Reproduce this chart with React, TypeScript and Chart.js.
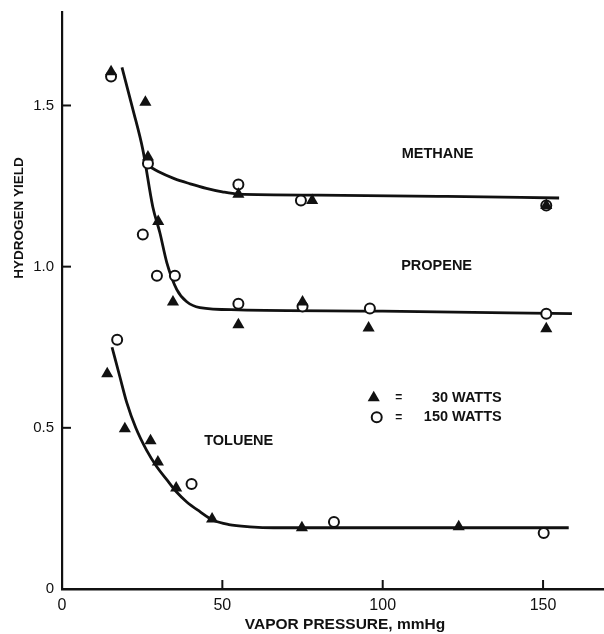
import React, { useEffect, useRef } from "react";
import { Chart, registerables } from "chart.js";

Chart.register(...registerables);

// ---- axes ----
const xTicks = [0, 50, 100, 150];
const xTickLabels = ["0", "50", "100", "150"];
const yTicks = [0, 0.5, 1.0, 1.5];
const yTickLabels = ["0", "0.5", "1.0", "1.5"];
const xMin = 0;
const xMax = 169;
const yMin = 0;
const yMax = 1.79;
const xTitle = "VAPOR PRESSURE, mmHg";
const yTitle = "HYDROGEN YIELD";

// ---- measured points: 30 W (triangles) ----
const methane30X = [26.8, 55, 78, 151];
const methane30Y = [1.34, 1.225, 1.205, 1.19];
const propene30X = [15.3, 26, 30, 34.6, 55, 75, 95.6, 151];
const propene30Y = [1.605, 1.51, 1.14, 0.89, 0.82, 0.89, 0.81, 0.807];
const toluene30X = [14.1, 19.6, 27.6, 29.9, 35.6, 46.8, 74.8, 123.7];
const toluene30Y = [0.668, 0.497, 0.46, 0.394, 0.313, 0.217, 0.19, 0.193];

// ---- measured points: 150 W (circles) ----
const methane150X = [26.8, 55, 74.5, 151];
const methane150Y = [1.32, 1.255, 1.205, 1.19];
const propene150X = [15.3, 25.2, 29.6, 35.2, 55, 75, 96, 151];
const propene150Y = [1.59, 1.10, 0.972, 0.972, 0.885, 0.876, 0.87, 0.854];
const toluene150X = [17.2, 40.4, 84.8, 150.2];
const toluene150Y = [0.773, 0.326, 0.208, 0.174];

// ---- hand-drawn fit curves ----
const methaneFitX = [26.5, 30, 35, 40, 45, 50, 55, 80, 120, 155];
const methaneFitY = [1.315, 1.295, 1.273, 1.257, 1.243, 1.232, 1.225, 1.222, 1.218, 1.213];
const propeneFitX = [18.7, 22.1, 25.2, 28.3, 30.5, 32.7, 35.8, 38.9, 43, 55, 100, 159];
const propeneFitY = [1.618, 1.488, 1.363, 1.186, 1.106, 1.012, 0.929, 0.891, 0.873, 0.866, 0.862, 0.854];
const tolueneFitX = [15.6, 18, 20.2, 23, 26.4, 29.5, 32.6, 35.8, 38.9, 43, 47, 52, 58.6, 66, 75, 100, 158];
const tolueneFitY = [0.75, 0.66, 0.578, 0.5, 0.43, 0.38, 0.34, 0.3, 0.27, 0.24, 0.214, 0.2, 0.193, 0.19, 0.19, 0.19, 0.19];

// ---- text annotations ----
const gasLabels = ["METHANE", "PROPENE", "TOLUENE"];
const gasLabelX = [117.1, 116.8, 55.1];
const gasLabelY = [1.351, 1.003, 0.46];
const legendLabels = ["30 WATTS", "150 WATTS"];
const legendX = 97.2;
const legendY = [0.593, 0.533];

const pts = (xs: number[], ys: number[]) => xs.map((x, i) => ({ x, y: ys[i] }));

const INK = "#111111";
const FONT = "'Liberation Sans', Arial, sans-serif";

const annotate = {
  id: "annotate",
  afterDraw(chart: any) {
    const ctx = chart.ctx as CanvasRenderingContext2D;
    const xs = chart.scales.x;
    const ys = chart.scales.y;
    const area = chart.chartArea;
    ctx.save();
    ctx.strokeStyle = INK;
    ctx.fillStyle = INK;
    // inward tick marks
    ctx.lineWidth = 2;
    xTicks.forEach((v) => {
      if (v === 0) return;
      const px = xs.getPixelForValue(v);
      ctx.beginPath();
      ctx.moveTo(px, area.bottom);
      ctx.lineTo(px, area.bottom - 9);
      ctx.stroke();
    });
    yTicks.forEach((v) => {
      if (v === 0) return;
      const py = ys.getPixelForValue(v);
      ctx.beginPath();
      ctx.moveTo(area.left, py);
      ctx.lineTo(area.left + 9, py);
      ctx.stroke();
    });
    // axis titles
    ctx.font = `bold 15.5px ${FONT}`;
    ctx.textAlign = "center";
    ctx.textBaseline = "middle";
    ctx.fillText(xTitle, 345, 625);
    ctx.save();
    ctx.translate(19, 218);
    ctx.rotate(-Math.PI / 2);
    ctx.font = `bold 13.5px ${FONT}`;
    ctx.fillText(yTitle, 0, 0);
    ctx.restore();
    // gas labels
    ctx.font = `bold 14.5px ${FONT}`;
    gasLabels.forEach((t, i) => {
      ctx.fillText(t, xs.getPixelForValue(gasLabelX[i]), ys.getPixelForValue(gasLabelY[i]));
    });
    // legend
    const lx = xs.getPixelForValue(legendX);
    legendY.forEach((v, i) => {
      const py = ys.getPixelForValue(v);
      if (i === 0) {
        const r = 7;
        ctx.beginPath();
        ctx.moveTo(lx, py - r);
        ctx.lineTo(lx + r * 0.866, py + r * 0.5);
        ctx.lineTo(lx - r * 0.866, py + r * 0.5);
        ctx.closePath();
        ctx.fill();
      } else {
        ctx.beginPath();
        ctx.lineWidth = 2;
        ctx.arc(lx + 3, py, 5, 0, Math.PI * 2);
        ctx.stroke();
      }
      ctx.font = `bold 12px ${FONT}`;
      ctx.textAlign = "center";
      ctx.fillText("=", lx + 25, py);
      ctx.font = `bold 14.5px ${FONT}`;
      ctx.textAlign = "right";
      ctx.fillText(legendLabels[i], lx + 128, py);
    });
    ctx.restore();
  },
};

export default function App() {
  const ref = useRef<HTMLCanvasElement | null>(null);
  useEffect(() => {
    if (!ref.current) return;
    const tri = (xs: number[], ys: number[]) => ({
      type: "scatter" as const,
      data: pts(xs, ys),
      pointStyle: "triangle",
      pointRadius: 7,
      pointBackgroundColor: INK,
      pointBorderColor: INK,
      pointBorderWidth: 0,
      showLine: false,
      order: 0,
    });
    const circ = (xs: number[], ys: number[]) => ({
      type: "scatter" as const,
      data: pts(xs, ys),
      pointStyle: "circle",
      pointRadius: 5,
      pointBackgroundColor: "#ffffff",
      pointBorderColor: INK,
      pointBorderWidth: 2,
      showLine: false,
      order: 1,
    });
    const fit = (xs: number[], ys: number[]) => ({
      type: "scatter" as const,
      data: pts(xs, ys),
      showLine: true,
      borderColor: INK,
      borderWidth: 2.8,
      pointRadius: 0,
      cubicInterpolationMode: "monotone" as const,
      fill: false,
      order: 2,
    });
    const chart = new Chart(ref.current, {
      type: "scatter",
      data: {
        datasets: [
          fit(methaneFitX, methaneFitY),
          fit(propeneFitX, propeneFitY),
          fit(tolueneFitX, tolueneFitY),
          circ(methane150X, methane150Y),
          circ(propene150X, propene150Y),
          circ(toluene150X, toluene150Y),
          tri(methane30X, methane30Y),
          tri(propene30X, propene30Y),
          tri(toluene30X, toluene30Y),
        ] as any,
      },
      options: {
        responsive: false,
        animation: false,
        layout: { autoPadding: false, padding: { top: 12, right: 0, left: 0, bottom: 0 } },
        plugins: { legend: { display: false }, tooltip: { enabled: false }, title: { display: false } },
        scales: {
          x: {
            type: "linear",
            min: xMin,
            max: xMax,
            grid: { display: false, drawTicks: false, tickLength: 0 },
            border: { display: true, color: INK, width: 2.5 },
            afterBuildTicks: (s: any) => {
              s.ticks = xTicks.map((v) => ({ value: v }));
            },
            afterFit: (s: any) => {
              s.height = 45;
              s.paddingLeft = 0;
              s.paddingRight = 0;
            },
            ticks: {
              color: INK,
              padding: 7,
              maxRotation: 0,
              autoSkip: false,
              font: { family: FONT, size: 16 },
              callback: (v: any) => {
                const i = xTicks.indexOf(Number(v));
                return i >= 0 ? xTickLabels[i] : "";
              },
            },
          },
          y: {
            type: "linear",
            min: yMin,
            max: yMax,
            grid: { display: false, drawTicks: false, tickLength: 0 },
            border: { display: true, color: INK, width: 2.2 },
            afterBuildTicks: (s: any) => {
              s.ticks = yTicks.map((v) => ({ value: v }));
            },
            afterFit: (s: any) => {
              s.width = 62;
              s.paddingTop = 0;
              s.paddingBottom = 0;
            },
            ticks: {
              color: INK,
              padding: 8,
              autoSkip: false,
              font: { family: FONT, size: 15 },
              callback: (v: any) => {
                const i = yTicks.indexOf(Number(v));
                return i >= 0 ? yTickLabels[i] : "";
              },
            },
          },
        },
      },
      plugins: [annotate],
    });
    return () => chart.destroy();
  }, []);
  return (
    <div style={{ position: "absolute", left: 0, top: 0, width: 604, height: 634, background: "#fff" }}>
      <canvas ref={ref} width={604} height={634} style={{ width: 604, height: 634 }} />
    </div>
  );
}
